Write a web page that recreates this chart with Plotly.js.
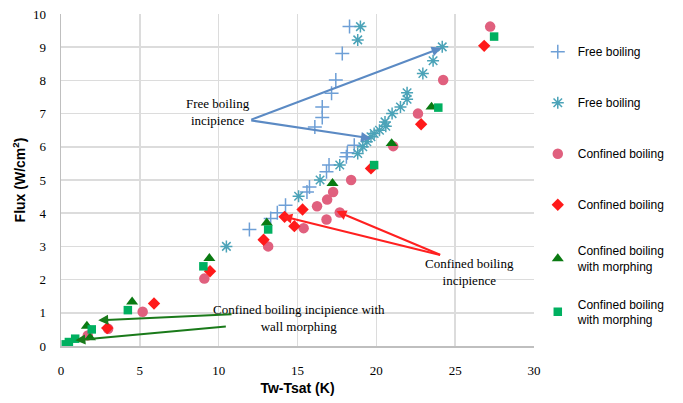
<!DOCTYPE html>
<html><head><meta charset="utf-8">
<script src="https://cdn.plot.ly/plotly-3.0.1.min.js"></script>
<style>html,body{margin:0;padding:0;background:#fff}#chart{width:683px;height:403px}</style>
</head><body><div id="chart"></div>
<script>
// Free boiling (+)
const freePlusX = [11.95,13.3,13.72,14.24,15.6,15.76,16.84,17.0,18.1,18.16,18.6,16.1,16.57,16.57,17.16,17.43,17.84,18.3];
const freePlusY = [3.51,3.84,4.01,4.24,4.64,4.79,5.25,5.45,5.7,5.82,6.05,6.6,6.88,7.2,7.61,8.01,8.81,9.62];
// Free boiling (star)
const freeStarX = [10.49,15.07,16.43,17.68,18.82,19.14,19.4,19.66,19.86,20.2,20.55,20.6,21.0,21.53,21.95,21.95,22.95,23.6,24.18,18.82,18.99];
const freeStarY = [3.0,4.51,5.0,5.45,5.8,6.0,6.15,6.3,6.4,6.5,6.75,6.62,7.0,7.2,7.43,7.63,8.21,8.59,9.01,9.22,9.62];
// Confined boiling (circle)
const confCircX = [1.7,2.99,5.18,9.09,13.14,15.39,16.84,17.68,16.24,16.88,17.26,18.4,21.07,22.64,24.24,27.22];
const confCircY = [0.32,0.52,1.03,2.03,3.0,3.55,3.81,4.02,4.21,4.41,4.64,5.0,6.02,7.0,8.01,9.62];
// Confined boiling (diamond)
const confDiaX = [2.93,5.9,9.45,12.85,14.18,14.8,15.32,19.66,22.84,26.84];
const confDiaY = [0.54,1.28,2.25,3.2,3.89,3.61,4.11,5.35,6.68,9.04];
// Confined boiling with morphing (triangle)
const morphTriX = [1.64,1.84,4.51,9.41,13.05,17.22,20.97,23.5];
const morphTriY = [0.6,0.25,1.33,2.64,3.71,4.9,6.1,7.2];
// Confined boiling with morphing (square)
const morphSqX = [0.3,0.5,0.9,1.95,4.24,9.03,13.14,19.86,23.93,27.47];
const morphSqY = [0.05,0.12,0.22,0.5,1.08,2.4,3.51,5.45,7.18,9.32];

const names = ['Free boiling','Free boiling','Confined boiling','Confined boiling','Confined boiling<br>with morphing','Confined boiling<br>with morphing'];

function tr(x,y,name,sym,color,size,lw,g,leg){
  return {x:x,y:y,name:name,type:'scatter',mode:'markers',legendgroup:g,legend:leg,
    marker:{symbol:sym,color:color,size:size,line:{color:color,width:lw}}};
}
const data = [
  tr(freePlusX,freePlusY,names[0],'cross-thin-open','#6e9fd6',10,1.5,'g1','legend'),
  tr(freeStarX,freeStarY,names[1],'asterisk-open','#4ba3b8',10,1.5,'g2','legend'),
  tr(confCircX,confCircY,names[2],'circle','#e0607e',10.5,0,'g3','legend'),
  tr(confDiaX,confDiaY,names[3],'diamond','#ff1a1a',9.5,0,'g4','legend'),
  tr(morphTriX,morphTriY,names[4],'triangle-up','#0a7a12',10.5,0,'g5','legend2'),
  tr(morphSqX,morphSqY,names[5],'square','#00b060',8.5,0,'g6','legend2')
];

const serif = {family:'Liberation Serif, serif',size:13,color:'#000'};
function arrow(hx,hy,tx,ty,color){
  return {x:hx,y:hy,ax:tx,ay:ty,xref:'x',yref:'y',axref:'x',ayref:'y',text:'',
    showarrow:true,arrowhead:2,arrowsize:1,arrowwidth:2,arrowcolor:color};
}
const annotations = [
  {x:9.97,y:7.06,xref:'x',yref:'y',text:'Free boiling<br>incipience',showarrow:false,font:serif,align:'center'},
  arrow(24.14,8.98,11.97,6.80,'#5b8ac4'),
  arrow(19.66,6.25,11.97,6.80,'#5b8ac4'),
  {x:25.9,y:2.22,xref:'x',yref:'y',text:'Confined boiling<br>incipience',showarrow:false,font:serif,align:'center'},
  arrow(14.03,3.91,24.14,2.73,'#ff2020'),
  arrow(17.47,4.06,24.14,2.73,'#ff2020'),
  {x:15.1,y:0.85,xref:'x',yref:'y',text:'Confined boiling incipience with<br>wall morphing',showarrow:false,font:serif,align:'center'},
  arrow(2.36,0.775,10.91,0.956,'#1a7a1a'),
  arrow(0.91,0.17,10.55,0.594,'#1a7a1a')
];

const legFont = {family:'Liberation Sans, sans-serif',size:12,color:'#000'};
const layout = {
  width:683,height:403,
  margin:{l:60.5,r:143,t:14,b:57},
  paper_bgcolor:'#fff',plot_bgcolor:'#fff',
  showlegend:true,
  legend:{x:1.008,xanchor:'left',y:0.93,yanchor:'top',font:legFont,
    tracegroupgap:32,traceorder:'grouped',valign:'middle',bgcolor:'rgba(0,0,0,0)'},
  legend2:{x:1.008,xanchor:'left',y:0.33,yanchor:'top',font:legFont,
    tracegroupgap:19,traceorder:'grouped',valign:'middle',bgcolor:'rgba(0,0,0,0)'},
  xaxis:{range:[0,30],dtick:5,tick0:0,showgrid:true,gridcolor:'#dcdcdc',gridwidth:1.5,
    showline:true,linecolor:'#bfbfbf',linewidth:1.5,zeroline:false,
    ticks:'outside',ticklen:12,tickcolor:'rgba(0,0,0,0)',
    tickfont:{family:'Liberation Serif, serif',size:13,color:'#000'},
    title:{text:'<b>Tw-Tsat (K)</b>',font:{family:'Liberation Sans, sans-serif',size:14,color:'#000'},standoff:6}},
  yaxis:{range:[0,10],dtick:1,tick0:0,showgrid:true,gridcolor:'#dcdcdc',gridwidth:1.5,
    showline:true,linecolor:'#bfbfbf',linewidth:1.5,zeroline:false,
    ticks:'outside',ticklen:11,tickcolor:'rgba(0,0,0,0)',
    tickfont:{family:'Liberation Serif, serif',size:13,color:'#000'},
    title:{text:'<b>Flux (W/cm<sup>2</sup>)</b>',font:{family:'Liberation Sans, sans-serif',size:14,color:'#000'},standoff:4}},
  annotations:annotations
};
Plotly.newPlot('chart',data,layout,{displayModeBar:false,staticPlot:true});
</script></body></html>
